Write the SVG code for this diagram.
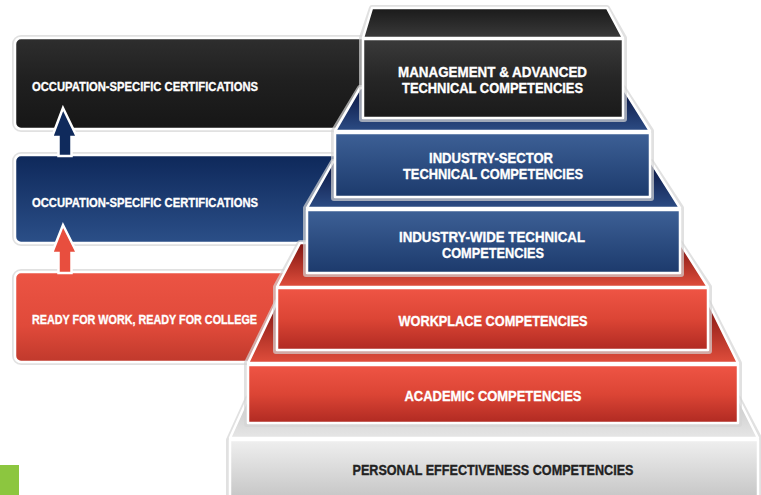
<svg xmlns="http://www.w3.org/2000/svg" width="761" height="495" viewBox="0 0 761 495">
<defs>
<linearGradient id="gBlackFace" x1="0" y1="0" x2="0" y2="1"><stop offset="0" stop-color="#3a3a3a"/><stop offset="0.5" stop-color="#262626"/><stop offset="1" stop-color="#1a1a1a"/></linearGradient>
<linearGradient id="gBlackTop" x1="0" y1="0" x2="0" y2="1"><stop offset="0" stop-color="#1a1a1a"/><stop offset="1" stop-color="#3a3a3a"/></linearGradient>
<linearGradient id="gBlackBar" x1="0" y1="0" x2="0" y2="1"><stop offset="0" stop-color="#2e2e2e"/><stop offset="0.45" stop-color="#202020"/><stop offset="1" stop-color="#161616"/></linearGradient>
<linearGradient id="gBlueFace" x1="0" y1="0" x2="0" y2="1"><stop offset="0" stop-color="#3d6096"/><stop offset="1" stop-color="#1c3a6c"/></linearGradient>
<linearGradient id="gBlueTop" x1="0" y1="0" x2="0" y2="1"><stop offset="0" stop-color="#0a1440"/><stop offset="1" stop-color="#2c4c84"/></linearGradient>
<linearGradient id="gBlueBar" x1="0" y1="0" x2="0" y2="1"><stop offset="0" stop-color="#0e285a"/><stop offset="1" stop-color="#2b4f88"/></linearGradient>
<linearGradient id="gRedFace" x1="0" y1="0" x2="0" y2="1"><stop offset="0" stop-color="#ef5545"/><stop offset="0.5" stop-color="#dc4535"/><stop offset="1" stop-color="#b02a22"/></linearGradient>
<linearGradient id="gRedTop" x1="0" y1="0" x2="0" y2="1"><stop offset="0" stop-color="#7e1410"/><stop offset="1" stop-color="#e04e3c"/></linearGradient>
<linearGradient id="gRedBar" x1="0" y1="0" x2="0" y2="1"><stop offset="0" stop-color="#ec5444"/><stop offset="0.6" stop-color="#e04a3a"/><stop offset="1" stop-color="#c0392c"/></linearGradient>
<linearGradient id="gGreyFace" x1="0" y1="0" x2="0" y2="1"><stop offset="0" stop-color="#efefef"/><stop offset="1" stop-color="#c6c6c6"/></linearGradient>
<linearGradient id="gGreyTop" x1="0" y1="0" x2="0" y2="1"><stop offset="0" stop-color="#c8c8c8"/><stop offset="1" stop-color="#e6e6e6"/></linearGradient>
</defs>
<style>
.shadow{fill:none;stroke:#d4d4d4;stroke-width:6;stroke-linejoin:round;opacity:0.7}
.edge{stroke:#ffffff;stroke-width:2.5;stroke-linejoin:round}
.bar{stroke:#ffffff;stroke-width:2.5}
.lbl{font-family:"Liberation Sans Narrow","Liberation Sans",Arial,sans-serif;font-weight:bold;fill:#ffffff;stroke:#ffffff;stroke-width:0.35}
.tl{font-size:15.5px;text-anchor:middle}
.bl{font-size:13.5px}
.dark{fill:#222222;stroke:#222222}
</style>

<g id="left-bars">
  <g id="bar-black">
    <rect x="15" y="38" width="380" height="91" rx="6" class="shadow"/>
    <rect x="15" y="38" width="380" height="91" rx="6" fill="url(#gBlackBar)" class="bar"/>
    <text x="32" y="90.5" class="lbl bl" textLength="226" lengthAdjust="spacingAndGlyphs">OCCUPATION-SPECIFIC CERTIFICATIONS</text>
  </g>
  <g id="bar-blue">
    <rect x="15" y="155" width="360" height="88" rx="6" class="shadow"/>
    <rect x="15" y="155" width="360" height="88" rx="6" fill="url(#gBlueBar)" class="bar"/>
    <text x="32" y="206.5" class="lbl bl" textLength="226" lengthAdjust="spacingAndGlyphs">OCCUPATION-SPECIFIC CERTIFICATIONS</text>
  </g>
  <g id="bar-red">
    <rect x="15" y="272" width="300" height="90" rx="6" class="shadow"/>
    <rect x="15" y="272" width="300" height="90" rx="6" fill="url(#gRedBar)" class="bar"/>
    <text x="32" y="324" class="lbl bl" textLength="225" lengthAdjust="spacingAndGlyphs">READY FOR WORK, READY FOR COLLEGE</text>
  </g>
</g>

<g id="connectors">
  <polygon points="63,108 77,137 71.5,137 71.5,156 58.5,156 58.5,137 52,137" fill="#0f2a5c" stroke="#ffffff" stroke-width="2.5" stroke-linejoin="miter"/>
  <polygon points="63,225 77,253 71.5,253 71.5,273 58.5,273 58.5,253 52,253" fill="#e84e3e" stroke="#ffffff" stroke-width="2.5" stroke-linejoin="miter"/>
</g>

<g id="tier-personal">
  <polygon points="248,398 738,398 760,440 760,497 229,497 229,440" class="shadow"/>
  <polygon points="248,398 738,398 758,438 230,438" fill="url(#gGreyTop)" class="edge"/>
  <rect x="230" y="440" width="528" height="58" fill="url(#gGreyFace)" class="edge"/>
  <text x="493" y="474.5" class="lbl tl dark" textLength="281" lengthAdjust="spacingAndGlyphs">PERSONAL EFFECTIVENESS COMPETENCIES</text>
</g>

<g id="tier-academic">
  <polygon points="277,302 708,302 739,363 739,424 247,424 247,363" class="shadow"/>
  <polygon points="277,302 708,302 738,363 248,363" fill="url(#gRedTop)" class="edge"/>
  <rect x="248" y="365" width="490" height="58" fill="url(#gRedFace)" class="edge"/>
  <text x="493" y="400.5" class="lbl tl" textLength="177" lengthAdjust="spacingAndGlyphs">ACADEMIC COMPETENCIES</text>
</g>

<g id="tier-workplace">
  <polygon points="300,243 680,243 709,287 709,351 276,351 276,287" class="shadow"/>
  <polygon points="300,243 680,243 708,287 277,287" fill="url(#gRedTop)" class="edge"/>
  <rect x="277" y="288" width="431" height="62" fill="url(#gRedFace)" class="edge"/>
  <text x="493" y="325.5" class="lbl tl" textLength="189" lengthAdjust="spacingAndGlyphs">WORKPLACE COMPETENCIES</text>
</g>

<g id="tier-industry-wide">
  <polygon points="333,162 651,162 681,208 681,274 306,274 306,208" class="shadow"/>
  <polygon points="333,162 651,162 680,208 307,208" fill="url(#gBlueTop)" class="edge"/>
  <rect x="307" y="210" width="373" height="63" fill="url(#gBlueFace)" class="edge"/>
  <text x="492" y="242" class="lbl tl" textLength="186" lengthAdjust="spacingAndGlyphs">INDUSTRY-WIDE TECHNICAL</text>
  <text x="493" y="257.5" class="lbl tl" textLength="102" lengthAdjust="spacingAndGlyphs">COMPETENCIES</text>
</g>

<g id="tier-industry-sector">
  <polygon points="360,88 623,88 651,131 651,198 334,198 334,131" class="shadow"/>
  <polygon points="360,88 623,88 650,131 335,131" fill="url(#gBlueTop)" class="edge"/>
  <rect x="335" y="133" width="315" height="64" fill="url(#gBlueFace)" class="edge"/>
  <text x="491" y="163" class="lbl tl" textLength="124" lengthAdjust="spacingAndGlyphs">INDUSTRY-SECTOR</text>
  <text x="493" y="178.5" class="lbl tl" textLength="180" lengthAdjust="spacingAndGlyphs">TECHNICAL COMPETENCIES</text>
</g>

<g id="tier-management">
  <polygon points="372,8 607,8 624,38 624,119 362,119 362,38" class="shadow"/>
  <polygon points="372,8 607,8 623,38 363,38" fill="url(#gBlackTop)" class="edge"/>
  <rect x="363" y="39" width="260" height="79" fill="url(#gBlackFace)" class="edge"/>
  <text x="492.5" y="77" class="lbl tl" textLength="189" lengthAdjust="spacingAndGlyphs">MANAGEMENT &amp; ADVANCED</text>
  <text x="492.5" y="92.5" class="lbl tl" textLength="181" lengthAdjust="spacingAndGlyphs">TECHNICAL COMPETENCIES</text>
</g>

<rect id="green-marker" x="0" y="465" width="19" height="30" fill="#8cc63f"/>
</svg>
